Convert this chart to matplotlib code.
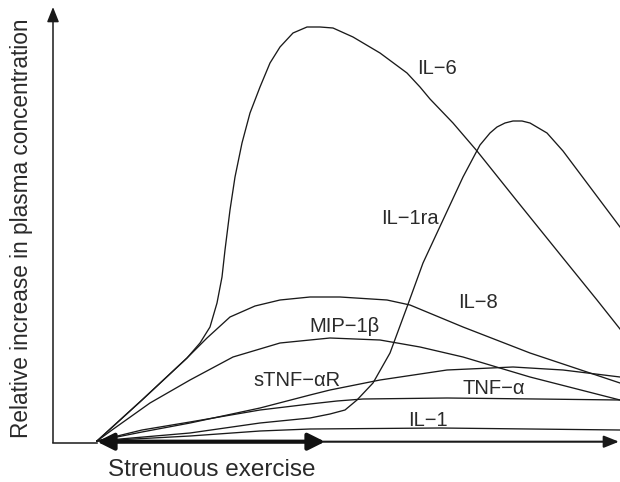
import matplotlib
matplotlib.use('Agg')
import matplotlib.pyplot as plt

plt.rcParams['font.family'] = ['Liberation Sans', 'DejaVu Sans']

# time (arbitrary units, exercise = 0..228) and relative plasma level
il6_t = [0, 45, 90, 103, 113, 120, 125, 128, 133, 138, 145, 153, 163, 173, 183, 196, 210,
         223, 236, 256, 283, 310, 323, 333, 356, 380, 420, 466, 500, 523]
il6_y = [0, 41, 83, 98, 114, 138, 164, 191, 231, 264, 298, 328, 354, 378, 394, 408, 414,
         414, 413, 404, 388, 368, 354, 342, 318, 290, 240, 183, 141, 112]

il1ra_t = [0, 93, 163, 213, 233, 248, 260, 276, 293, 310, 326, 346, 366, 383, 393, 400, 408,
           416, 425, 433, 450, 466, 493, 523]
il1ra_y = [0, 8, 18, 23, 27, 31, 41, 58, 88, 134, 178, 221, 264, 296, 308, 314, 318,
           320, 320, 318, 308, 290, 254, 214]

il8_t = [0, 45, 90, 110, 133, 158, 183, 213, 243, 290, 313, 366, 433, 523]
il8_y = [0, 41, 83, 103, 124, 135, 141, 144, 144, 141, 136, 114, 88, 58]

mip_t = [0, 15, 53, 93, 136, 183, 233, 283, 323, 366, 433, 523]
mip_y = [0, 11, 38, 61, 84, 98, 103, 101, 94, 84, 64, 41]

stnfr_t = [0, 45, 93, 163, 213, 233, 283, 350, 416, 466, 523]
stnfr_y = [0, 9, 18, 33, 46, 51, 61, 71, 74, 71, 64]

tnfa_t = [0, 45, 93, 163, 213, 240, 266, 350, 440, 523]
tnfa_y = [0, 11, 19, 31, 37, 40, 42, 43, 42, 41]

il1_t = [0, 93, 163, 213, 343, 523]
il1_y = [0, 5, 10, 12, 13, 11]

curves = [
    (il6_t, il6_y), (il1ra_t, il1ra_y), (il8_t, il8_y), (mip_t, mip_y),
    (stnfr_t, stnfr_y), (tnfa_t, tnfa_y), (il1_t, il1_y),
]

# label text and where it sits
labels = ['IL\u22126', 'IL\u22121ra', 'IL\u22128', 'MIP\u22121\u03b2',
          'sTNF\u2212\u03b1R', 'TNF\u2212\u03b1', 'IL\u22121']
label_t = [340, 313, 381, 247, 200, 397, 331]
label_y = [372, 223, 138, 115, 61, 52, 20]

exercise_end = 228

fig = plt.figure(figsize=(6.2, 4.82), dpi=100)
ax = fig.add_axes([0, 0, 1, 1])
ax.set_xlim(-97, 523)
ax.set_ylim(-41, 441)
ax.axis('off')

line_c = '#1a1a1a'
text_c = '#2a2a2a'

for t, y in curves:
    ax.plot(t, y, color=line_c, lw=0.95, solid_joinstyle='round')

for s, x, y in zip(labels, label_t, label_y):
    ax.text(x, y, s, fontsize=14.5, color=text_c, ha='center', va='center')

# axes
ax.plot([-44, 0], [-1.5, -1.5], color=line_c, lw=1.1)
ax.annotate('', xy=(-44, 434), xytext=(-44, -1.5),
            arrowprops=dict(arrowstyle='-|>,head_length=0.45,head_width=0.18',
                            mutation_scale=20, lw=1.1, color=line_c,
                            shrinkA=0, shrinkB=0))
ax.annotate('', xy=(522, -0.7), xytext=(exercise_end - 5, -0.7),
            arrowprops=dict(arrowstyle='-|>,head_length=0.45,head_width=0.18',
                            mutation_scale=20, lw=1.5, color=line_c,
                            shrinkA=0, shrinkB=0))
ax.annotate('', xy=(exercise_end, -0.7), xytext=(0, -0.7),
            arrowprops=dict(arrowstyle='<|-|>,head_length=0.5,head_width=0.25',
                            mutation_scale=20, lw=3, color='#111111',
                            shrinkA=0, shrinkB=0))

ax.text(115, -29, 'Strenuous exercise', fontsize=17.5, color=text_c,
        ha='center', va='center')
ax.text(-75, 213, 'Relative increase in plasma concentration', fontsize=16.3,
        color=text_c, rotation=90, ha='center', va='center')

plt.savefig('out.png', dpi=100)
